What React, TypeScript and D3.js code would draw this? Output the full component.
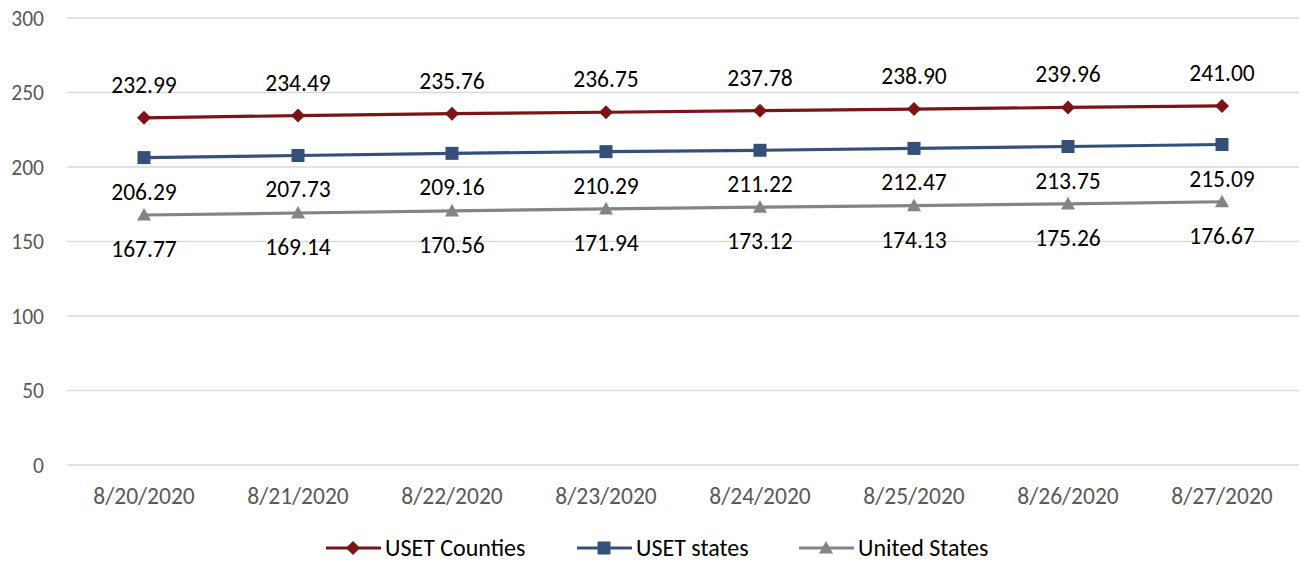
import React from "react";
import * as d3 from "d3";

const categories = ["8/20/2020", "8/21/2020", "8/22/2020", "8/23/2020", "8/24/2020", "8/25/2020", "8/26/2020", "8/27/2020"];
const usetCounties = [232.99, 234.49, 235.76, 236.75, 237.78, 238.9, 239.96, 241.0];
const usetStates = [206.29, 207.73, 209.16, 210.29, 211.22, 212.47, 213.75, 215.09];
const unitedStates = [167.77, 169.14, 170.56, 171.94, 173.12, 174.13, 175.26, 176.67];
const yTicks = [0, 50, 100, 150, 200, 250, 300];

const series = [
  { name: "USET Counties", values: usetCounties, color: "#7B1416", marker: "diamond", labelPos: "above" },
  { name: "USET states", values: usetStates, color: "#344F78", marker: "square", labelPos: "below" },
  { name: "United States", values: unitedStates, color: "#848484", marker: "triangle", labelPos: "below" },
];

const W = 1300, H = 564;
const left = 67, right = 1299, top = 18, bottom = 465;
const font = "Carlito, Calibri, Lato, 'Open Sans', sans-serif";

function Marker({ type, x, y, color }: { type: string; x: number; y: number; color: string }) {
  if (type === "diamond") {
    const s = 7;
    return <path d={`M${x},${y - s}L${x + s},${y}L${x},${y + s}L${x - s},${y}Z`} fill={color} />;
  }
  if (type === "square") {
    const s = 6.5;
    return <rect x={x - s} y={y - s} width={2 * s} height={2 * s} fill={color} />;
  }
  const s = 7;
  return <path d={`M${x},${y - s}L${x + s},${y + s * 0.8}L${x - s},${y + s * 0.8}Z`} fill={color} />;
}

export default function App() {
  const x = d3.scaleBand<string>().domain(categories).range([left, right]);
  const y = d3.scaleLinear().domain([0, 300]).range([bottom, top]);
  const cx = (c: string) => (x(c) as number) + x.bandwidth() / 2;
  const line = d3.line<number>().x((_, i) => cx(categories[i])).y((v) => y(v));

  const legendItems = [
    { s: series[0], x0: 326 },
    { s: series[1], x0: 577 },
    { s: series[2], x0: 799 },
  ];

  return (
    <svg width={W} height={H} style={{ position: "absolute", left: 0, top: 0, background: "#fff" }}>
      {yTicks.map((t) => (
        <g key={t}>
          <line x1={left} x2={right} y1={y(t)} y2={y(t)} stroke="#D9D9D9" strokeWidth={1.5} />
          <text x={44} y={y(t)} dy="0.35em" textAnchor="end" fontSize={21.5} fill="#595959" fontFamily={font}>
            {t}
          </text>
        </g>
      ))}
      {categories.map((c) => (
        <text key={c} x={cx(c)} y={504} textAnchor="middle" fontSize={23.5} fill="#595959" fontFamily={font}>
          {c}
        </text>
      ))}
      {series.map((s) => (
        <g key={s.name}>
          <path d={line(s.values) || ""} fill="none" stroke={s.color} strokeWidth={3.2} />
          {s.values.map((v, i) => (
            <Marker key={i} type={s.marker} x={cx(categories[i])} y={y(v)} color={s.color} />
          ))}
          {s.values.map((v, i) => (
            <text
              key={"l" + i}
              x={cx(categories[i])}
              y={s.labelPos === "above" ? y(v) - 25 : y(v) + 42}
              textAnchor="middle"
              fontSize={23.5}
              fill="#000"
              fontFamily={font}
            >
              {v.toFixed(2)}
            </text>
          ))}
        </g>
      ))}
      {legendItems.map(({ s, x0 }) => (
        <g key={s.name}>
          <line x1={x0} x2={x0 + 55} y1={548} y2={548} stroke={s.color} strokeWidth={3.2} />
          <Marker type={s.marker} x={x0 + 27} y={548} color={s.color} />
          <text x={x0 + 59} y={548} dy="0.35em" fontSize={24} fill="#000" fontFamily={font}>
            {s.name}
          </text>
        </g>
      ))}
    </svg>
  );
}
